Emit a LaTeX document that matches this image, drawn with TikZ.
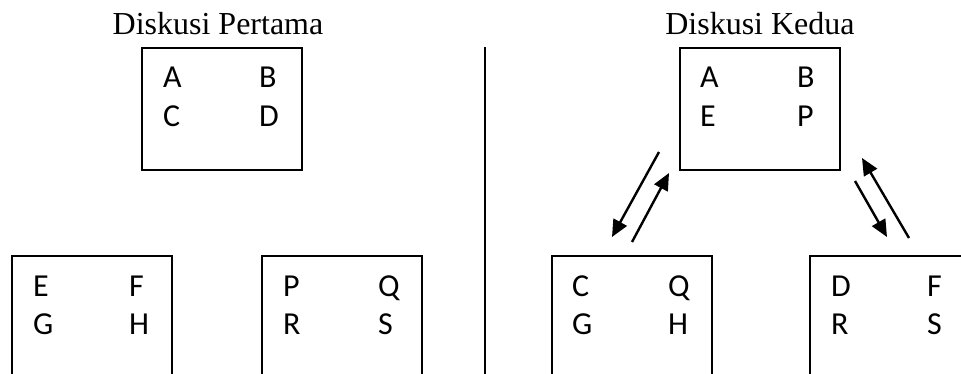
\documentclass[tikz,border=0pt]{standalone}
\usepackage{fontspec}
\setmainfont{Liberation Serif}
\newfontfamily\boxfont{Carlito}
\usetikzlibrary{arrows.meta}
\begin{document}
\begin{tikzpicture}[x=1pt,y=-1pt,
  grp/.style={draw,line width=2pt,anchor=north west,inner sep=0pt,minimum width=160pt},
  topgrp/.style={grp,minimum height=122pt},
  lowgrp/.style={grp,minimum height=150pt},
  lt/.style={anchor=base west,inner sep=0pt,font=\boxfont\fontsize{32}{38}\selectfont},
  ttl/.style={anchor=base,inner sep=0pt,font=\fontsize{32}{38}\selectfont},
  conn/.style={line width=2.4pt,-{Triangle[length=17pt,width=15pt]}}]
\useasboundingbox (0,0) rectangle (961,374);
\clip (0,0) rectangle (961,374);
% titles
\node[ttl] (title1) at (218,35) {Diskusi Pertama};
\node[ttl] (title2) at (760,35) {Diskusi Kedua};
% divider
\coordinate (dtop) at (485,47);
\coordinate (dbot) at (485,380);
\draw[line width=2pt] (dtop) -- (dbot);
% Diskusi Pertama
\node[topgrp] (p0) at (141,47) {};
\node[lt] (p0a) at (163,88) {A};
\node[lt] (p0b) at (259,88) {B};
\node[lt] (p0c) at (163,127) {C};
\node[lt] (p0d) at (259,127) {D};
\node[lowgrp] (p1) at (11,255) {};
\node[lt] (p1e) at (33,296) {E};
\node[lt] (p1f) at (129,296) {F};
\node[lt] (p1g) at (33,334) {G};
\node[lt] (p1h) at (129,334) {H};
\node[lowgrp] (p2) at (261,255) {};
\node[lt] (p2p) at (283,296) {P};
\node[lt] (p2q) at (378,296) {Q};
\node[lt] (p2r) at (283,334) {R};
\node[lt] (p2s) at (378,334) {S};
% Diskusi Kedua
\node[topgrp] (k0) at (679,47) {};
\node[lt] (k0a) at (700,88) {A};
\node[lt] (k0b) at (797,88) {B};
\node[lt] (k0e) at (700,127) {E};
\node[lt] (k0p) at (797,127) {P};
\node[lowgrp] (k1) at (551,255) {};
\node[lt] (k1c) at (572,296) {C};
\node[lt] (k1q) at (668,296) {Q};
\node[lt] (k1g) at (572,334) {G};
\node[lt] (k1h) at (668,334) {H};
\node[lowgrp] (k2) at (809,255) {};
\node[lt] (k2d) at (831,296) {D};
\node[lt] (k2f) at (927,296) {F};
\node[lt] (k2r) at (831,334) {R};
\node[lt] (k2s) at (927,334) {S};
% arrow end points
\coordinate (a1s) at (659,152);
\coordinate (a1e) at (612,237);
\coordinate (a2s) at (632,242);
\coordinate (a2e) at (669,173);
\coordinate (a3s) at (855,181);
\coordinate (a3e) at (887,237);
\coordinate (a4s) at (909,238);
\coordinate (a4e) at (862,158);
\draw[conn] (a1s) -- (a1e);
\draw[conn] (a2s) -- (a2e);
\draw[conn] (a3s) -- (a3e);
\draw[conn] (a4s) -- (a4e);
\end{tikzpicture}
\end{document}
